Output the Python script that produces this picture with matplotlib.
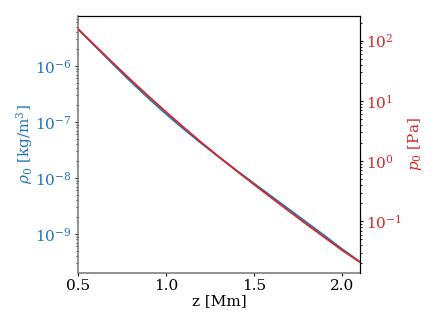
import matplotlib
matplotlib.use('Agg')
import matplotlib.pyplot as plt

plt.rcParams['font.family'] = 'DejaVu Serif'
plt.rcParams['mathtext.fontset'] = 'dejavuserif'
plt.rcParams['font.size'] = 11
plt.rcParams['xtick.major.size'] = 2.5
plt.rcParams['ytick.major.size'] = 2.5
plt.rcParams['xtick.minor.size'] = 1.5
plt.rcParams['ytick.minor.size'] = 1.5
plt.rcParams['xtick.major.pad'] = 2
plt.rcParams['ytick.major.pad'] = 2

# height in Mm
z = [0.5, 0.6, 0.7, 0.8, 0.9, 1.0, 1.1, 1.2, 1.3, 1.4, 1.5, 1.6, 1.7, 1.8, 1.9, 2.0, 2.1]
# density [kg/m^3]
rho = [4.58e-6, 2.21e-6, 1.068e-6, 5.25e-7, 2.66e-7, 1.39e-7, 7.53e-8, 4.17e-8, 2.37e-8,
       1.37e-8, 7.98e-9, 4.68e-9, 2.74e-9, 1.60e-9, 9.36e-10, 5.40e-10, 3.20e-10]
# pressure [Pa]
p = [156, 81.2, 42.3, 22.3, 11.97, 6.55, 3.64, 2.05, 1.18,
     0.690, 0.408, 0.244, 0.1466, 0.0885, 0.0541, 0.0331, 0.0211]

blue = '#1f77b4'
red = '#d62728'

fig = plt.figure(figsize=(4.36, 3.27), dpi=100)
ax1 = fig.add_axes([0.179, 0.166, 0.646, 0.785])
ax1.semilogy(z, rho, color=blue, lw=1.3)
ax1.set_xlim(0.5, 2.1)
ax1.set_ylim(10**-9.691, 10**-5.107)
ax1.set_xlabel('z [Mm]', labelpad=1)
ax1.set_ylabel(r'$\rho_0$ [kg/m$^3$]', color=blue, labelpad=0)
ax1.tick_params(axis='y', labelcolor=blue)
ax1.set_xticks([0.5, 1.0, 1.5, 2.0])
for s in ['left', 'bottom']:
    ax1.spines[s].set_color('gray')
    ax1.spines[s].set_linewidth(1.2)

ax2 = ax1.twinx()
ax2.semilogy(z, p, color=red, lw=1.3)
ax2.set_ylim(10**-1.854, 10**2.410)
ax2.set_ylabel(r'$p_0$ [Pa]', color=red, labelpad=3)
ax2.tick_params(axis='y', labelcolor=red)
ax2.spines['left'].set_visible(False)
ax2.spines['bottom'].set_visible(False)

plt.savefig('out.png', dpi=100)
